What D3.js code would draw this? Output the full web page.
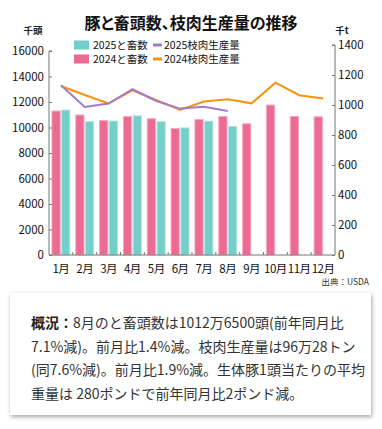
<!DOCTYPE html>
<html lang="ja">
<head>
<meta charset="UTF-8">
<title>豚と畜頭数、枝肉生産量の推移</title>
<script src="https://d3js.org/d3.v7.min.js"></script>
<style>
  body { margin: 0; background: #fff; }
  svg { display: block; font-family: "Noto Sans CJK JP", "Noto Sans", sans-serif; }
  .palt { font-feature-settings: "palt"; }
</style>
</head>
<body>
<svg id="chart" width="382" height="429"></svg>
<script>
// data (千頭 / 千t)
const months = ["1月","2月","3月","4月","5月","6月","7月","8月","9月","10月","11月","12月"];
const slaughter2024 = [11330, 11020, 10580, 10900, 10730, 9960, 10660, 10900, 10330, 11800, 10900, 10880];
const slaughter2025 = [11410, 10500, 10550, 10960, 10500, 10010, 10540, 10127];
const meat2024 = [1127, 1067, 1010, 1098, 1033, 967, 1023, 1039, 1011, 1149, 1065, 1043];
const meat2025 = [1131, 987, 1010, 1105, 1027, 976, 989, 960];
const leftTicks = [0, 2000, 4000, 6000, 8000, 10000, 12000, 14000, 16000];
const rightTicks = [0, 200, 400, 600, 800, 1000, 1200, 1400];
const noteLines = [
  ["概況：", "8月のと畜頭数は1012万6500頭(前年同月比"],
  ["", "7.1%減)。前月比1.4%減。枝肉生産量は96万28トン"],
  ["", "(同7.6%減)。前月比1.9%減。生体豚1頭当たりの平均"],
  ["", "重量は 280ポンドで前年同月比2ポンド減。"]
];

const pink = "#ec6a93", pinkEdge = "#f7a9c0";
const teal = "#74cec9", tealEdge = "#b5e6e2";
const orange = "#f7930f", purple = "#a27ccb";

const svg = d3.select("#chart");

const x = d3.scaleBand().domain(months).range([49, 335]);
const xs = d3.scaleBand().domain(["2024", "2025"]).range([0, x.bandwidth()])
  .paddingInner(0.05).paddingOuter(0.25);
const yL = d3.scaleLinear().domain([0, 16000]).range([255, 51]);
const yR = d3.scaleLinear().domain([0, 1400]).range([255, 45]);

// title
svg.append("text").attr("class", "palt").attr("x", 191).attr("y", 29).attr("text-anchor", "middle")
  .attr("font-size", 16).attr("font-weight", "bold").attr("fill", "#111")
  .text("豚と畜頭数、枝肉生産量の推移");

// units
svg.append("text").attr("x", 33).attr("y", 34).attr("text-anchor", "middle")
  .attr("font-size", 9.5).attr("font-weight", "bold").attr("fill", "#222").text("千頭");
svg.append("text").attr("x", 342).attr("y", 34).attr("text-anchor", "middle")
  .attr("font-size", 9.5).attr("font-weight", "bold").attr("fill", "#222").text("千t");

// bars
const g = svg.append("g");
g.selectAll(".b24").data(slaughter2024).join("rect")
  .attr("x", (d, i) => x(months[i]) + xs("2024") + 0.5)
  .attr("y", d => yL(d) + 0.5)
  .attr("width", xs.bandwidth() - 1)
  .attr("height", d => yL(0) - yL(d) - 0.5)
  .attr("fill", pink).attr("stroke", pinkEdge).attr("stroke-width", 1);
g.selectAll(".b25").data(slaughter2025).join("rect")
  .attr("x", (d, i) => x(months[i]) + xs("2025") + 0.5)
  .attr("y", d => yL(d) + 0.5)
  .attr("width", xs.bandwidth() - 1)
  .attr("height", d => yL(0) - yL(d) - 0.5)
  .attr("fill", teal).attr("stroke", tealEdge).attr("stroke-width", 1);

// lines
const line = d3.line().x((d, i) => x(months[i]) + x.bandwidth() / 2).y(d => yR(d));
svg.append("path").datum(meat2024).attr("d", line)
  .attr("fill", "none").attr("stroke", orange).attr("stroke-width", 2);
svg.append("path").datum(meat2025).attr("d", line)
  .attr("fill", "none").attr("stroke", purple).attr("stroke-width", 2);

// axes
const axisColor = "#777";
const la = svg.append("g").attr("transform", "translate(49,0)")
  .call(d3.axisRight(yL).tickValues(leftTicks).tickSize(3).tickFormat(d => ""));
la.select(".domain").attr("d", "M3," + yL(16000) + "H0V" + yL(0));
svg.selectAll(".lt").data(leftTicks).join("text")
  .attr("x", 44).attr("y", d => yL(d)).attr("dy", "0.36em").attr("text-anchor", "end")
  .attr("font-size", 11.5).attr("fill", "#111").text(d => d);

const ra = svg.append("g").attr("transform", "translate(335,0)")
  .call(d3.axisLeft(yR).tickValues(rightTicks).tickSize(3).tickFormat(d => ""));
ra.select(".domain").attr("d", "M-3," + yR(1400) + "H0V" + yR(0));
svg.selectAll(".rt").data(rightTicks).join("text")
  .attr("x", 338).attr("y", d => yR(d)).attr("dy", "0.36em").attr("text-anchor", "start")
  .attr("font-size", 11.5).attr("fill", "#111").text(d => d);

const xa = svg.append("g").attr("transform", "translate(0,255)")
  .call(d3.axisBottom(x).tickSize(0).tickFormat(""));
xa.select(".domain").attr("d", "M49,0H335");
svg.selectAll(".xt").data(months.slice(1)).join("line")
  .attr("x1", d => x(d)).attr("x2", d => x(d)).attr("y1", 255).attr("y2", 252)
  .attr("stroke", axisColor);
svg.selectAll(".xl").data(months).join("text")
  .attr("x", d => x(d) + x.bandwidth() / 2).attr("y", 269).attr("dy", "0.36em")
  .attr("text-anchor", "middle").attr("font-size", 11.5).attr("fill", "#111")
  .attr("letter-spacing", -0.5).text(d => d);
svg.selectAll(".domain, .tick line").attr("stroke", axisColor);

// source
svg.append("text").attr("x", 369).attr("y", 285).attr("text-anchor", "end")
  .attr("font-size", 8.5).attr("fill", "#333").text("出典：USDA");

// legend
const legend = [
  {label: "2025と畜数", type: "bar", color: teal, x: 74, y: 45},
  {label: "2024と畜数", type: "bar", color: pink, x: 74, y: 59},
  {label: "2025枝肉生産量", type: "line", color: purple, x: 153, y: 45},
  {label: "2024枝肉生産量", type: "line", color: orange, x: 153, y: 59}
];
const lg = svg.append("g").selectAll("g").data(legend).join("g")
  .attr("transform", d => `translate(${d.x},${d.y})`);
lg.filter(d => d.type === "bar").append("rect")
  .attr("x", 0).attr("y", -4.5).attr("width", 15).attr("height", 9).attr("fill", d => d.color);
lg.filter(d => d.type === "line").append("rect")
  .attr("x", 0).attr("y", -1.5).attr("width", 9).attr("height", 3).attr("fill", d => d.color);
lg.append("text").attr("x", d => d.type === "bar" ? 19 : 11).attr("y", 0).attr("dy", "0.36em")
  .attr("font-size", 10.5).attr("fill", "#111").text(d => d.label);

// note box
const defs = svg.append("defs");
const f = defs.append("filter").attr("id", "sh").attr("x", "-10%").attr("y", "-10%")
  .attr("width", "120%").attr("height", "130%");
f.append("feDropShadow").attr("dx", 1).attr("dy", 2).attr("stdDeviation", 2)
  .attr("flood-color", "#000").attr("flood-opacity", 0.35);
svg.append("rect").attr("x", 10).attr("y", 293).attr("width", 361).attr("height", 122)
  .attr("fill", "#fff").attr("filter", "url(#sh)");
const nt = svg.append("g").selectAll("text").data(noteLines).join("text")
  .attr("x", 31).attr("y", (d, i) => 323 + i * 23.5).attr("dy", "0.36em")
  .attr("font-size", 14).attr("fill", "#333");
nt.append("tspan").attr("font-weight", "bold").attr("fill", "#222").text(d => d[0]);
nt.append("tspan").text(d => d[1]);
</script>
</body>
</html>
